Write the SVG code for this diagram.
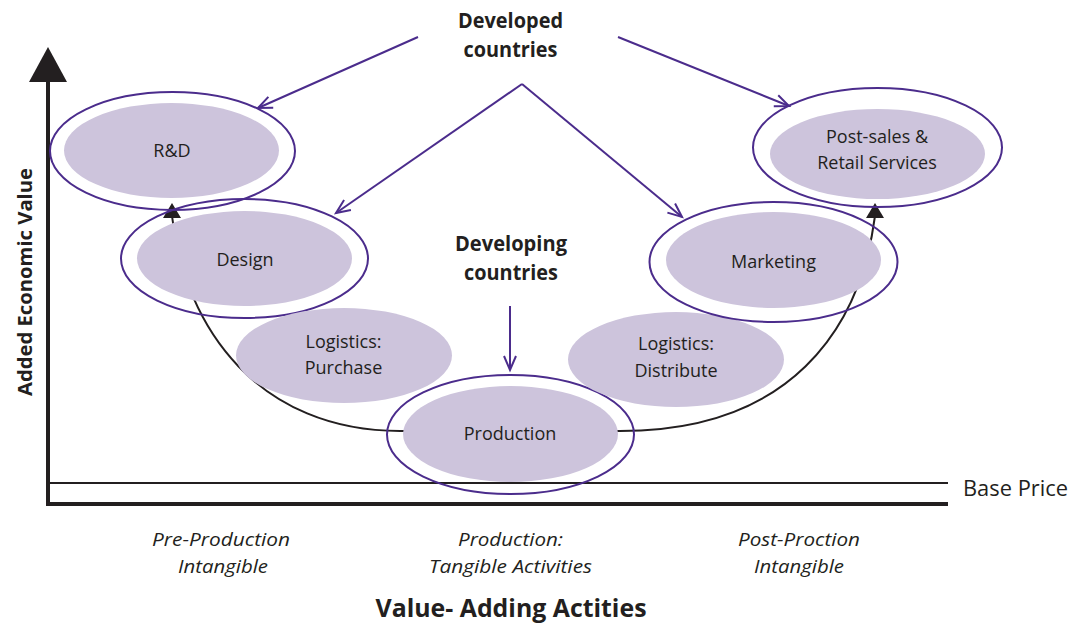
<svg xmlns="http://www.w3.org/2000/svg" width="1072" height="625" viewBox="0 0 1072 625">
<defs>
<style>
.ring{fill:none;stroke:#4b2c8c;stroke-width:2}
.fill{fill:#cdc4dc}
.lbl{font-family:"Open Sans","Noto Sans",sans-serif;font-size:18px;fill:#231f20;text-anchor:middle}
.hd{font-family:"Open Sans","Noto Sans",sans-serif;font-size:21px;font-weight:700;fill:#231f20;text-anchor:middle}
.it{font-family:"Open Sans","Noto Sans",sans-serif;font-size:19px;font-style:italic;fill:#231f20;text-anchor:middle}
.conn{stroke:#4b2c8c;stroke-width:2;fill:none}
</style>
<marker id="open" markerUnits="userSpaceOnUse" markerWidth="20" markerHeight="20" viewBox="-16 -10 20 20" refX="0" refY="0" orient="auto">
<path d="M-14,-6 L0,0 L-14,6" fill="none" stroke="#4b2c8c" stroke-width="2"/>
</marker>
</defs>
<rect width="1072" height="625" fill="#ffffff"/>

<g id="axes">
<line x1="48" y1="78" x2="48" y2="505" stroke="#231f20" stroke-width="4"/>
<polygon points="48,47 29,82 67,82" fill="#231f20"/>
<line x1="46" y1="504" x2="948" y2="504" stroke="#231f20" stroke-width="4"/>
<line x1="48" y1="483" x2="948" y2="483" stroke="#231f20" stroke-width="2"/>
<text x="963" y="496" font-family="'Open Sans','Noto Sans',sans-serif" font-size="22" fill="#231f20" textLength="105" lengthAdjust="spacingAndGlyphs">Base Price</text>
<text transform="translate(32,282) rotate(-90)" text-anchor="middle" font-family="'Open Sans','Noto Sans',sans-serif" font-size="20" font-weight="700" fill="#231f20" textLength="228" lengthAdjust="spacingAndGlyphs">Added Economic Value</text>
</g>

<g id="connectors">
<path d="M172,216 C185,330 260,431 400,431 L620,431 C790,431 860,330 875,216" fill="none" stroke="#231f20" stroke-width="2"/>
<polygon points="172,203 163,218 181,218" fill="#231f20"/>
<polygon points="875,203 866,218 884,218" fill="#231f20"/>
<line class="conn" x1="418" y1="37" x2="258" y2="108" marker-end="url(#open)"/>
<line class="conn" x1="618" y1="37" x2="789" y2="106" marker-end="url(#open)"/>
<line class="conn" x1="522" y1="84" x2="336" y2="213" marker-end="url(#open)"/>
<line class="conn" x1="522" y1="84" x2="682" y2="217" marker-end="url(#open)"/>
<line class="conn" x1="510" y1="306" x2="510" y2="370" marker-end="url(#open)"/>
</g>

<g id="rd">
<ellipse class="fill" cx="171.5" cy="150.5" rx="107.5" ry="47.5"/>
<ellipse class="ring" cx="172.5" cy="151" rx="122.5" ry="59"/>
<text class="lbl" x="172" y="157">R&amp;D</text>
</g>

<g id="design">
<ellipse class="fill" cx="244.5" cy="258.5" rx="107.5" ry="47.5"/>
<ellipse class="ring" cx="244.5" cy="258.5" rx="123.5" ry="59.5"/>
<text class="lbl" x="245" y="266">Design</text>
</g>

<g id="log-purchase">
<ellipse class="fill" cx="344" cy="355.5" rx="108" ry="47.5"/>
<text class="lbl" x="343.5" y="348">Logistics:</text>
<text class="lbl" x="343.5" y="374">Purchase</text>
</g>

<g id="production">
<ellipse class="fill" cx="510.5" cy="434" rx="107.5" ry="48"/>
<ellipse class="ring" cx="510.5" cy="434.5" rx="123.5" ry="59.5"/>
<text class="lbl" x="510" y="440">Production</text>
</g>

<g id="log-distribute">
<ellipse class="fill" cx="676" cy="359.5" rx="108" ry="47.5"/>
<text class="lbl" x="676" y="350">Logistics:</text>
<text class="lbl" x="676" y="377">Distribute</text>
</g>

<g id="marketing">
<ellipse class="fill" cx="773.5" cy="260" rx="107.5" ry="48"/>
<ellipse class="ring" cx="773.5" cy="262" rx="124" ry="60"/>
<text class="lbl" x="773.5" y="268">Marketing</text>
</g>

<g id="postsales">
<ellipse class="fill" cx="877.5" cy="154" rx="107.5" ry="45"/>
<ellipse class="ring" cx="877.5" cy="147.5" rx="124.5" ry="59.5"/>
<text class="lbl" x="877" y="143">Post-sales &amp;</text>
<text class="lbl" x="877" y="169">Retail Services</text>
</g>

<g id="developed">
<text class="hd" x="510.5" y="28" textLength="105" lengthAdjust="spacingAndGlyphs">Developed</text>
<text class="hd" x="510.5" y="57" textLength="94" lengthAdjust="spacingAndGlyphs">countries</text>
</g>

<g id="developing">
<text class="hd" x="511" y="251" textLength="112" lengthAdjust="spacingAndGlyphs">Developing</text>
<text class="hd" x="511" y="280" textLength="94" lengthAdjust="spacingAndGlyphs">countries</text>
</g>

<g id="categories">
<text class="it" x="221" y="546" textLength="138" lengthAdjust="spacingAndGlyphs">Pre-Production</text>
<text class="it" x="223" y="573" textLength="90" lengthAdjust="spacingAndGlyphs">Intangible</text>
<text class="it" x="510.5" y="546" textLength="105" lengthAdjust="spacingAndGlyphs">Production:</text>
<text class="it" x="510.5" y="573" textLength="163" lengthAdjust="spacingAndGlyphs">Tangible Activities</text>
<text class="it" x="799" y="546" textLength="122" lengthAdjust="spacingAndGlyphs">Post-Proction</text>
<text class="it" x="799" y="573" textLength="90" lengthAdjust="spacingAndGlyphs">Intangible</text>
<text x="511" y="617" text-anchor="middle" font-family="'Open Sans','Noto Sans',sans-serif" font-size="25" font-weight="700" fill="#231f20" textLength="271" lengthAdjust="spacingAndGlyphs">Value- Adding Actities</text>
</g>
</svg>
